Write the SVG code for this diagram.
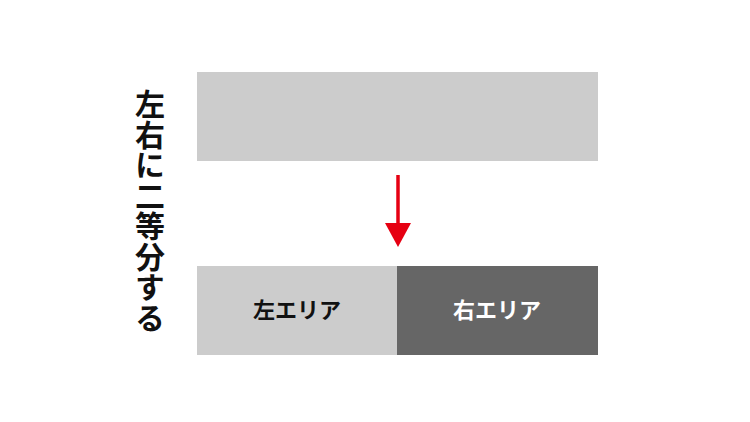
<svg xmlns="http://www.w3.org/2000/svg" width="750" height="422" viewBox="0 0 750 422">
<style>
.t{font-family:"Noto Sans CJK JP","Noto Sans",sans-serif;font-weight:bold}
.light{fill:#cccccc}
.dark{fill:#666666}
</style>
<defs>
<marker id="ah" markerWidth="24" markerHeight="26" refX="0" refY="13" markerUnits="userSpaceOnUse" orient="auto" viewBox="0 0 24 26">
<path d="M0,0 L24,13 L0,26 Z" fill="#e60012"/>
</marker>
</defs>
<rect width="750" height="422" fill="#ffffff"/>
<g id="title">
<text class="t" x="150" y="89" font-size="30" fill="#111" writing-mode="vertical-rl" style="writing-mode:vertical-rl;letter-spacing:0.5px">左右に二等分する</text>
</g>
<g id="whole">
<rect class="light" x="197" y="72" width="401" height="89"/>
</g>
<g id="left-area">
<rect class="light" x="197" y="266" width="200" height="89"/>
<text class="t" x="297" y="318" font-size="22" fill="#111" text-anchor="middle">左エリア</text>
</g>
<g id="right-area">
<rect class="dark" x="397" y="266" width="201" height="89"/>
<text class="t" x="497" y="318" font-size="22" fill="#ffffff" text-anchor="middle">右エリア</text>
</g>
<g id="connectors">
<line x1="398" y1="175" x2="398" y2="223" stroke="#e60012" stroke-width="3.5" marker-end="url(#ah)"/>
</g>
</svg>
